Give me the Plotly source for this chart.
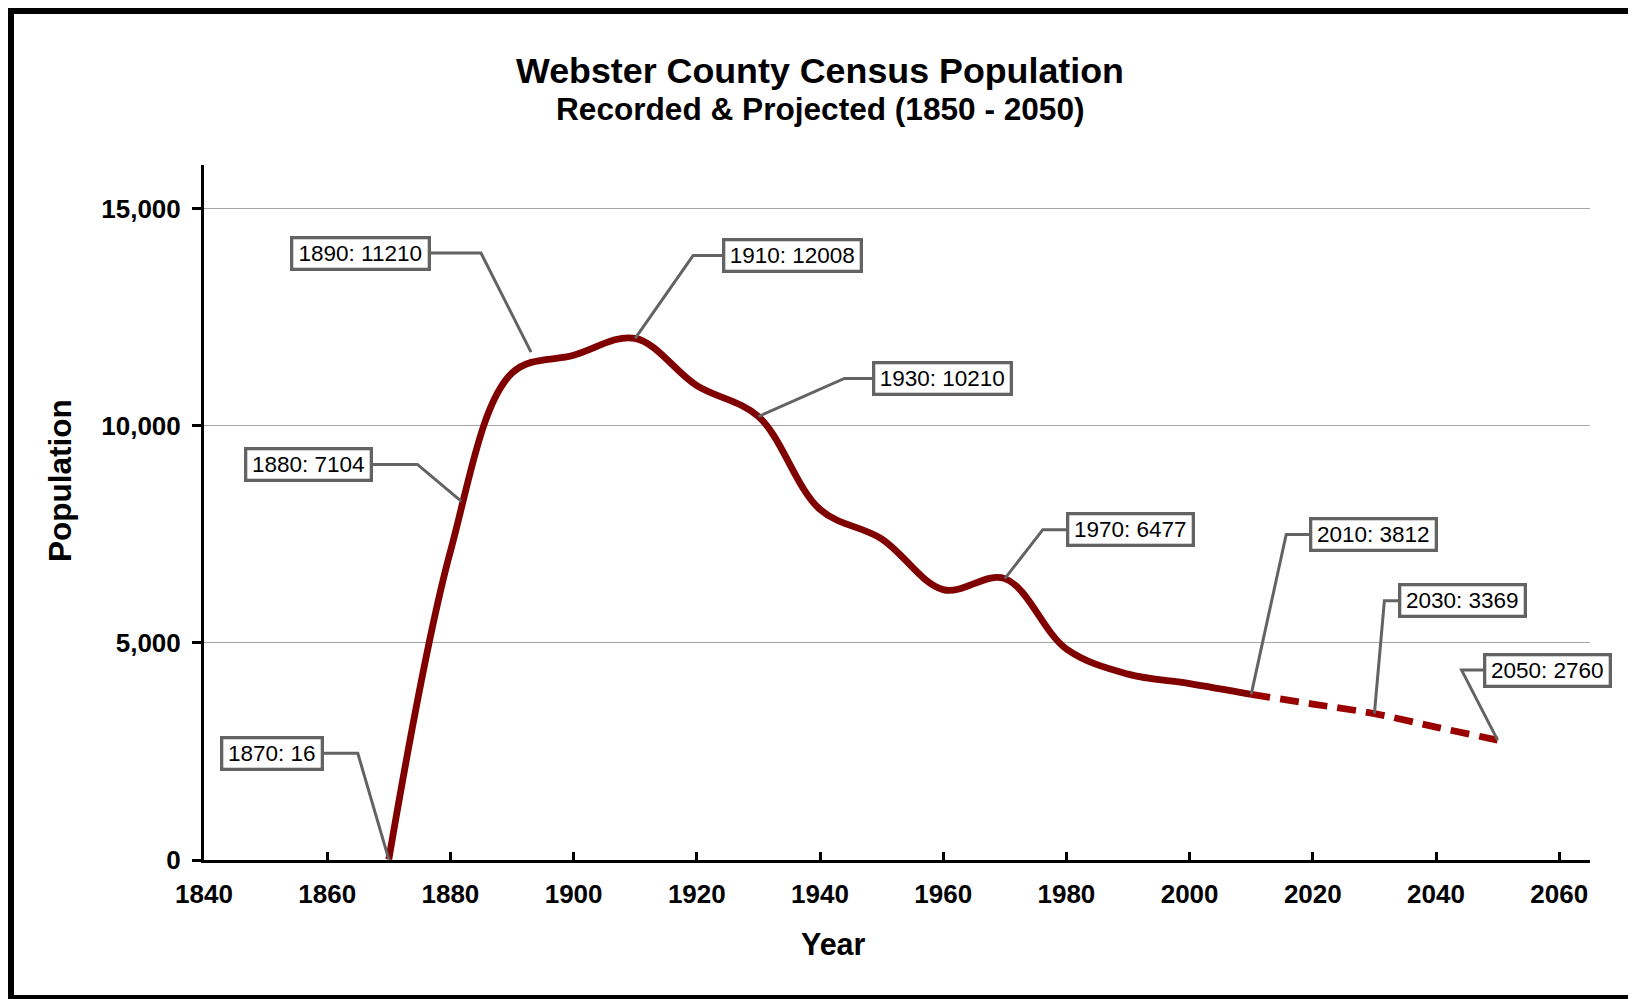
import plotly.graph_objects as go

# ---------------- data ----------------
years_recorded = [1870, 1880, 1890, 1900, 1910, 1920, 1930, 1940, 1950, 1960, 1970, 1980, 1990, 2000, 2010]
pop_recorded = [16, 7104, 11210, 11619, 12008, 10922, 10210, 8071, 7395, 6224, 6477, 4858, 4279, 4061, 3812]
years_projected = [2010, 2020, 2030, 2040, 2050]
pop_projected = [3812, 3590, 3369, 3060, 2760]

label_years = [1870, 1880, 1890, 1910, 1930, 1970, 2010, 2030, 2050]
label_values = [16, 7104, 11210, 12008, 10210, 6477, 3812, 3369, 2760]

y_tickvals = [0, 5000, 10000, 15000]

# ---------------- layout geometry (pixels) ----------------
PAGE_OFF = 8  # default body margin of the html page
FIG_W, FIG_H = 1636 - PAGE_OFF, 999 - PAGE_OFF
M_L, M_R, M_T, M_B = 196, 46, 157, 139
PW, PH = FIG_W - M_L - M_R, FIG_H - M_T - M_B
XR = [1840, 2065]
YR = [0, 16000]

# label-box offsets from data point (px, screen: +x right, +y down)
BOX_DX = [-117, -142, -152, 157, 184, 126, 122, 88, 50]
BOX_DY = [-106, -87, -120, -83, -38, -49, -160, -113, -70]
ELBOW_DX = [-31, -33, -31, 58, 86, 38, 35, 10, -36]
TIP_DX = [0, 11, 19, 0, 0, 0, 0, 0, 0]
TIP_DY = [0, -50, -21, 0, 0, 0, 0, 0, 0]

FONT = "Arial, 'Liberation Sans', sans-serif"
LABEL_SIZE = 22.5
GREY = "#636363"


def dx_px_to_data(dx):
    return dx * (XR[1] - XR[0]) / PW


def dy_px_to_data(dy):
    return -dy * (YR[1] - YR[0]) / PH


def text_width(s, size):
    w = 0.0
    for ch in s:
        w += 0.556 if ch.isdigit() else 0.278
    return w * size


def px_to_paper_x(px_page):
    return (px_page - PAGE_OFF - M_L) / PW


def px_to_paper_y(py_page):
    return (M_T + PH - (py_page - PAGE_OFF)) / PH


fig = go.Figure()

fig.add_trace(go.Scatter(
    x=years_recorded, y=pop_recorded, mode="lines",
    line=dict(color="#800000", width=6.8, shape="spline", smoothing=1.0),
    name="Recorded", showlegend=False,
))
fig.add_trace(go.Scatter(
    x=years_projected, y=pop_projected, mode="lines",
    line=dict(color="#9a0000", width=6.8, shape="spline", dash="19px,10px"),
    name="Projected", showlegend=False,
))

shapes = []
annotations = []

# leader lines + label boxes
for i, (yr, val) in enumerate(zip(label_years, label_values)):
    cx = yr + dx_px_to_data(BOX_DX[i])
    cy = val + dy_px_to_data(BOX_DY[i])
    ex = yr + dx_px_to_data(ELBOW_DX[i])
    tx = yr + dx_px_to_data(TIP_DX[i])
    ty = val + dy_px_to_data(TIP_DY[i])
    shapes.append(dict(
        type="path", xref="x", yref="y", layer="above",
        path=f"M {cx},{cy} L {ex},{cy} L {tx},{ty}",
        line=dict(color=GREY, width=3),
    ))
    txt = f"{yr}: {val}"
    annotations.append(dict(
        x=yr, y=val, xref="x", yref="y", showarrow=False,
        xshift=BOX_DX[i], yshift=-BOX_DY[i],
        text=txt, font=dict(family=FONT, size=LABEL_SIZE, color="black"),
        bgcolor="white", bordercolor=GREY, borderwidth=3.3, borderpad=2,
        width=round(text_width(txt, LABEL_SIZE)) + 5, height=24,
        xanchor="center", yanchor="middle",
    ))

# titles
annotations.append(dict(
    x=px_to_paper_x(820), y=px_to_paper_y(71), xref="paper", yref="paper",
    text="<b>Webster County Census Population</b>", showarrow=False,
    font=dict(family=FONT, size=35.8, color="black"), xanchor="center", yanchor="middle",
))
annotations.append(dict(
    x=px_to_paper_x(820), y=px_to_paper_y(109), xref="paper", yref="paper",
    text="<b>Recorded & Projected (1850 - 2050)</b>", showarrow=False,
    font=dict(family=FONT, size=31.6, color="black"), xanchor="center", yanchor="middle",
))
annotations.append(dict(
    x=px_to_paper_x(60), y=px_to_paper_y(481), xref="paper", yref="paper",
    text="<b>Population</b>", showarrow=False, textangle=-90,
    font=dict(family=FONT, size=31.5, color="black"), xanchor="center", yanchor="middle",
))
annotations.append(dict(
    x=px_to_paper_x(833), y=px_to_paper_y(944), xref="paper", yref="paper",
    text="<b>Year</b>", showarrow=False,
    font=dict(family=FONT, size=30.5, color="black"), xanchor="center", yanchor="middle",
))

# outer frame
shapes.append(dict(
    type="rect", xref="paper", yref="paper", layer="above",
    x0=px_to_paper_x(10.5), x1=px_to_paper_x(1634),
    y0=px_to_paper_y(998.5), y1=px_to_paper_y(10.5),
    line=dict(color="black", width=7), fillcolor="rgba(0,0,0,0)",
))

fig.update_layout(
    width=FIG_W, height=FIG_H,
    margin=dict(l=M_L, r=M_R, t=M_T, b=M_B, pad=0),
    paper_bgcolor="white", plot_bgcolor="white",
    font=dict(family=FONT, color="black"),
    shapes=shapes, annotations=annotations,
    showlegend=False,
)
fig.update_xaxes(
    range=XR, tick0=1840, dtick=20, showgrid=False, zeroline=False,
    showline=True, linecolor="black", linewidth=3,
    ticks="inside", ticklen=8, tickwidth=3, tickcolor="black",
    tickfont=dict(family=FONT, size=26, color="black", weight="bold"),
    ticklabelstandoff=9,
)
fig.update_yaxes(
    range=YR, tickvals=y_tickvals, tickformat=",", showgrid=True,
    gridcolor="#a6a6a6", gridwidth=1, zeroline=False,
    showline=True, linecolor="black", linewidth=3,
    ticks="outside", ticklen=9, tickwidth=3, tickcolor="black",
    tickfont=dict(family=FONT, size=26, color="black", weight="bold"),
    ticklabelstandoff=6,
)

fig.write_html("out.html")
